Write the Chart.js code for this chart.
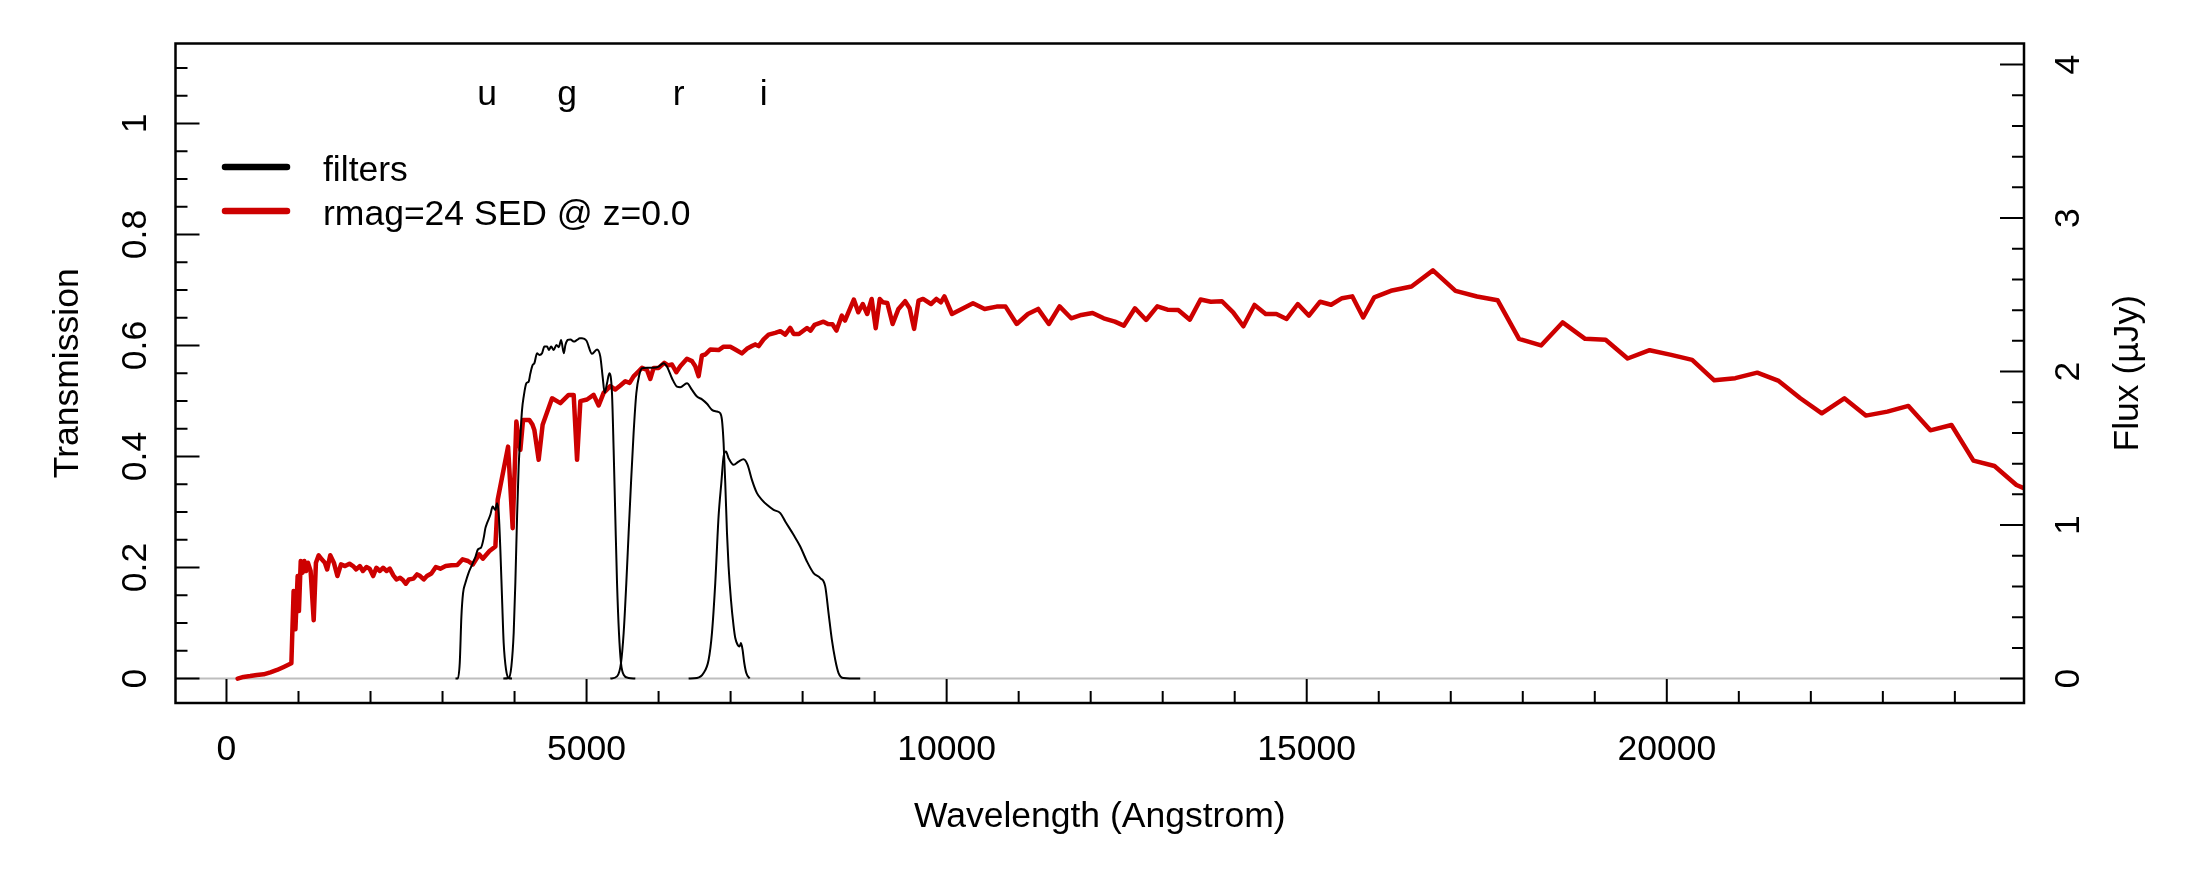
<!DOCTYPE html>
<html><head><meta charset="utf-8">
<script src="https://cdn.jsdelivr.net/npm/chart.js@4/dist/chart.umd.min.js"></script>
<style>html,body{margin:0;padding:0;background:#fff;} canvas{display:block;}</style>
</head><body>
<canvas id="c" width="2200" height="880"></canvas>
<script>
// ---- SED (flux in microJansky, right axis) ----
const sedWave = [155,236,329,422,516,609,702,795,901,932,957,988,1006,1031,1056,1081,1106,1131,1168,1211,1242,1280,1323,1366,1398,1441,1491,1540,1590,1646,1708,1758,1801,1851,1894,1944,1988,2037,2081,2130,2174,2224,2267,2317,2360,2410,2453,2491,2534,2596,2646,2689,2739,2783,2845,2907,2969,3043,3124,3205,3279,3354,3422,3466,3510,3559,3652,3734,3766,3910,3974,4025,4081,4118,4206,4248,4275,4335,4390,4521,4636,4751,4821,4868,4914,5006,5098,5168,5237,5330,5399,5469,5538,5598,5653,5723,5770,5839,5885,5931,6001,6079,6130,6186,6246,6301,6394,6464,6510,6556,6602,6649,6718,6834,6903,6996,7065,7157,7226,7296,7342,7389,7458,7528,7620,7690,7759,7828,7875,7949,8061,8110,8166,8290,8352,8414,8470,8544,8588,8711,8773,8835,8897,8959,9015,9071,9114,9176,9250,9331,9424,9486,9548,9610,9672,9783,9858,9919,9969,10074,10366,10527,10694,10818,10973,11128,11270,11419,11568,11729,11871,12026,12181,12336,12460,12615,12770,12925,13067,13216,13377,13526,13668,13823,13978,14120,14275,14430,14579,14721,14876,15031,15186,15339,15491,15632,15784,15937,16169,16455,16753,17066,17364,17650,17948,18254,18553,18866,19150,19456,19762,20061,20352,20659,20951,21256,21554,21854,22152,22465,22763,23063,23355,23660,23953,24258,24550,24855,25160];
const sedFlux = [0.000,0.011,0.017,0.024,0.028,0.041,0.056,0.076,0.100,0.570,0.321,0.668,0.440,0.766,0.690,0.766,0.701,0.755,0.701,0.380,0.755,0.803,0.777,0.755,0.711,0.803,0.755,0.668,0.744,0.733,0.748,0.733,0.711,0.733,0.701,0.727,0.716,0.668,0.722,0.701,0.722,0.701,0.716,0.672,0.646,0.657,0.640,0.618,0.646,0.651,0.679,0.668,0.646,0.668,0.685,0.727,0.716,0.733,0.738,0.740,0.777,0.766,0.744,0.777,0.809,0.781,0.831,0.861,1.165,1.511,0.980,1.674,1.490,1.685,1.685,1.655,1.620,1.425,1.653,1.826,1.794,1.848,1.848,1.425,1.807,1.818,1.848,1.779,1.861,1.905,1.883,1.909,1.937,1.926,1.969,2.002,2.024,2.010,1.952,2.024,2.024,2.057,2.040,2.046,1.996,2.035,2.083,2.068,2.035,1.970,2.105,2.111,2.144,2.140,2.162,2.162,2.144,2.118,2.148,2.166,2.177,2.166,2.210,2.241,2.252,2.263,2.241,2.284,2.245,2.245,2.284,2.267,2.304,2.325,2.310,2.308,2.267,2.364,2.332,2.469,2.386,2.440,2.375,2.473,2.282,2.473,2.451,2.447,2.310,2.408,2.458,2.412,2.278,2.462,2.473,2.440,2.473,2.451,2.490,2.375,2.445,2.408,2.423,2.423,2.310,2.375,2.408,2.310,2.425,2.347,2.369,2.382,2.347,2.325,2.299,2.412,2.336,2.425,2.403,2.401,2.338,2.469,2.455,2.458,2.386,2.295,2.434,2.375,2.375,2.343,2.440,2.364,2.455,2.435,2.478,2.490,2.352,2.483,2.526,2.554,2.659,2.526,2.489,2.465,2.213,2.170,2.320,2.213,2.207,2.085,2.139,2.109,2.076,1.943,1.957,1.993,1.939,1.826,1.728,1.826,1.713,1.739,1.776,1.617,1.652,1.420,1.385,1.261,1.200];

// ---- filter transmission curves (left axis) ----
const uWave  = [3180,3211,3239,3262,3285,3317,3363,3410,3456,3493,3535,3571,3595,3618,3664,3696,3734,3757,3780,3803,3827,3849,3882,3918,3965];
const uTrans = [0,0.000,0.028,0.112,0.154,0.172,0.191,0.205,0.219,0.233,0.236,0.253,0.271,0.280,0.295,0.310,0.304,0.316,0.298,0.232,0.142,0.064,0.016,0.001,0];
const gWave  = [3844,3918,3956,3988,4011,4035,4057,4081,4104,4127,4164,4196,4220,4252,4275,4312,4344,4382,4414,4452,4476,4508,4544,4582,4614,4647,4684,4706,4739,4776,4822,4868,4906,4937,4997,5076,5145,5191,5223,5251,5284,5316,5353,5376,5399,5423,5450,5478,5515,5584,5677];
const gTrans = [0,0.001,0.022,0.082,0.172,0.292,0.382,0.436,0.484,0.508,0.532,0.535,0.550,0.565,0.568,0.586,0.583,0.586,0.598,0.598,0.592,0.598,0.592,0.601,0.597,0.610,0.586,0.601,0.610,0.611,0.607,0.610,0.613,0.613,0.609,0.585,0.593,0.580,0.544,0.515,0.532,0.550,0.514,0.412,0.292,0.172,0.082,0.028,0.007,0.001,0];
const rWave  = [5330,5423,5478,5515,5552,5584,5617,5653,5691,5732,5770,5839,5931,6001,6070,6116,6186,6255,6301,6394,6464,6533,6603,6672,6741,6811,6857,6880,6903,6926,6950,6972,7005,7042,7065,7097,7125,7144,7166,7190,7218,7264];
const rTrans = [0,0.004,0.028,0.082,0.172,0.262,0.352,0.442,0.514,0.547,0.559,0.560,0.560,0.562,0.568,0.562,0.541,0.526,0.525,0.532,0.520,0.508,0.503,0.495,0.484,0.481,0.478,0.466,0.424,0.352,0.262,0.202,0.142,0.094,0.073,0.061,0.058,0.064,0.052,0.028,0.010,0];
const iWave  = [6417,6533,6625,6695,6741,6787,6833,6871,6903,6936,6972,7042,7111,7180,7236,7296,7366,7435,7505,7597,7690,7759,7874,7967,8060,8152,8245,8314,8360,8406,8453,8499,8568,8800];
const iTrans = [0,0.001,0.010,0.034,0.082,0.172,0.292,0.352,0.400,0.409,0.397,0.385,0.391,0.395,0.385,0.358,0.334,0.322,0.313,0.304,0.298,0.283,0.259,0.238,0.211,0.190,0.181,0.166,0.118,0.070,0.034,0.010,0.001,0];

const filterNames = ['u','g','r','i'];
const filterLabelWave = [3620,4730,6280,7460];

// ---- axes ----
const xMajorTicks = [0,5000,10000,15000,20000];
const xTickLabels = ['0','5000','10000','15000','20000'];
const xMinorTicks = [0,1000,2000,3000,4000,5000,6000,7000,8000,9000,10000,11000,12000,13000,14000,15000,16000,17000,18000,19000,20000,21000,22000,23000,24000];
const leftMajorTicks = [0,0.2,0.4,0.6,0.8,1];
const leftTickLabels = ['0','0.2','0.4','0.6','0.8','1'];
const leftMinorTicks = [0,0.05,0.1,0.15,0.2,0.25,0.3,0.35,0.4,0.45,0.5,0.55,0.6,0.65,0.7,0.75,0.8,0.85,0.9,0.95,1,1.05,1.1];
const rightMajorTicks = [0,1,2,3,4];
const rightTickLabels = ['0','1','2','3','4'];
const rightMinorTicks = [0,0.2,0.4,0.6,0.8,1,1.2,1.4,1.6,1.8,2,2.2,2.4,2.6,2.8,3,3.2,3.4,3.6,3.8,4];

const legendLabels = ['filters','rmag=24 SED @ z=0.0'];
const xTitle = 'Wavelength (Angstrom)';
const yTitle = 'Transmission';
const y2Title = 'Flux (\u00B5Jy)';

const RED = '#CD0000';
const FONT = '35.5px "Liberation Sans", Arial, Helvetica, sans-serif';

function pts(xs, ys){ return xs.map((x,i)=>({x:x, y:ys[i]})); }
function filterDs(xs, ys){
  return { data: pts(xs,ys), yAxisID:'y', borderColor:'#000', borderWidth:2, pointRadius:0,
           cubicInterpolationMode:'monotone', fill:false, order:0 };
}

const decor = {
  id:'decor',
  beforeDatasetsDraw(chart){
    const {ctx, chartArea:a, scales:{y}} = chart;
    const py = y.getPixelForValue(0);
    ctx.save();
    ctx.strokeStyle = '#BEBEBE'; ctx.lineWidth = 2;
    ctx.beginPath(); ctx.moveTo(a.left, py); ctx.lineTo(a.right, py); ctx.stroke();
    ctx.restore();
  },
  afterDatasetsDraw(chart){
    const {ctx, chartArea:a, scales:{x, y, y2}} = chart;
    ctx.save();
    ctx.strokeStyle = '#000'; ctx.fillStyle = '#000';
    ctx.lineWidth = 2;
    const MAJ = 24, MIN = 12;
    ctx.beginPath();
    xMinorTicks.forEach(v=>{ const p=x.getPixelForValue(v); ctx.moveTo(p,a.bottom); ctx.lineTo(p,a.bottom-MIN); });
    xMajorTicks.forEach(v=>{ const p=x.getPixelForValue(v); ctx.moveTo(p,a.bottom); ctx.lineTo(p,a.bottom-MAJ); });
    leftMinorTicks.forEach(v=>{ const p=y.getPixelForValue(v); ctx.moveTo(a.left,p); ctx.lineTo(a.left+MIN,p); });
    leftMajorTicks.forEach(v=>{ const p=y.getPixelForValue(v); ctx.moveTo(a.left,p); ctx.lineTo(a.left+MAJ,p); });
    rightMinorTicks.forEach(v=>{ const p=y2.getPixelForValue(v); ctx.moveTo(a.right,p); ctx.lineTo(a.right-MIN,p); });
    rightMajorTicks.forEach(v=>{ const p=y2.getPixelForValue(v); ctx.moveTo(a.right,p); ctx.lineTo(a.right-MAJ,p); });
    ctx.stroke();
    ctx.lineWidth = 2.5;
    ctx.strokeRect(a.left, a.top, a.right-a.left, a.bottom-a.top);

    ctx.font = FONT;
    ctx.textAlign = 'center'; ctx.textBaseline = 'alphabetic';
    xMajorTicks.forEach((v,i)=>{ ctx.fillText(xTickLabels[i], x.getPixelForValue(v), 760); });
    ctx.fillText(xTitle, (a.left+a.right)/2, 827);
    function vtext(t, px, py){ ctx.save(); ctx.translate(px, py); ctx.rotate(-Math.PI/2); ctx.fillText(t, 0, 0); ctx.restore(); }
    leftMajorTicks.forEach((v,i)=>vtext(leftTickLabels[i], 146, y.getPixelForValue(v)));
    rightMajorTicks.forEach((v,i)=>vtext(rightTickLabels[i], 2079, y2.getPixelForValue(v)));
    vtext(yTitle, 78, (a.top+a.bottom)/2);
    vtext(y2Title, 2138, (a.top+a.bottom)/2);
    filterNames.forEach((n,i)=>{ ctx.fillText(n, x.getPixelForValue(filterLabelWave[i]), 105); });
    ctx.lineCap = 'round'; ctx.lineWidth = 6.5;
    const legCols = ['#000', RED], legY = [167, 211];
    legendLabels.forEach((t,i)=>{
      ctx.strokeStyle = legCols[i];
      ctx.beginPath(); ctx.moveTo(225, legY[i]); ctx.lineTo(287, legY[i]); ctx.stroke();
      ctx.textAlign = 'left';
      ctx.fillText(t, 323, legY[i]+13.5);
    });
    ctx.restore();
  }
};

new Chart(document.getElementById('c'), {
  type:'line',
  data:{ datasets:[
    filterDs(uWave,uTrans), filterDs(gWave,gTrans), filterDs(rWave,rTrans), filterDs(iWave,iTrans),
    { data: pts(sedWave, sedFlux), yAxisID:'y2', borderColor:RED, borderWidth:4.5, pointRadius:0,
      tension:0, fill:false, order:1, clip:0, borderJoinStyle:'round', borderCapStyle:'round' }
  ]},
  options:{
    responsive:false, animation:false, devicePixelRatio:1,
    layout:{ padding:{ left:175.5, right:176, top:43.5, bottom:177 } },
    plugins:{ legend:{display:false}, tooltip:{enabled:false} },
    scales:{
      x:{ type:'linear', min:-708, max:24960, display:false },
      y:{ type:'linear', min:-0.044, max:1.144, display:false },
      y2:{ type:'linear', min:-0.159, max:4.137, display:false, position:'right' }
    }
  },
  plugins:[decor]
});
</script>
</body></html>
